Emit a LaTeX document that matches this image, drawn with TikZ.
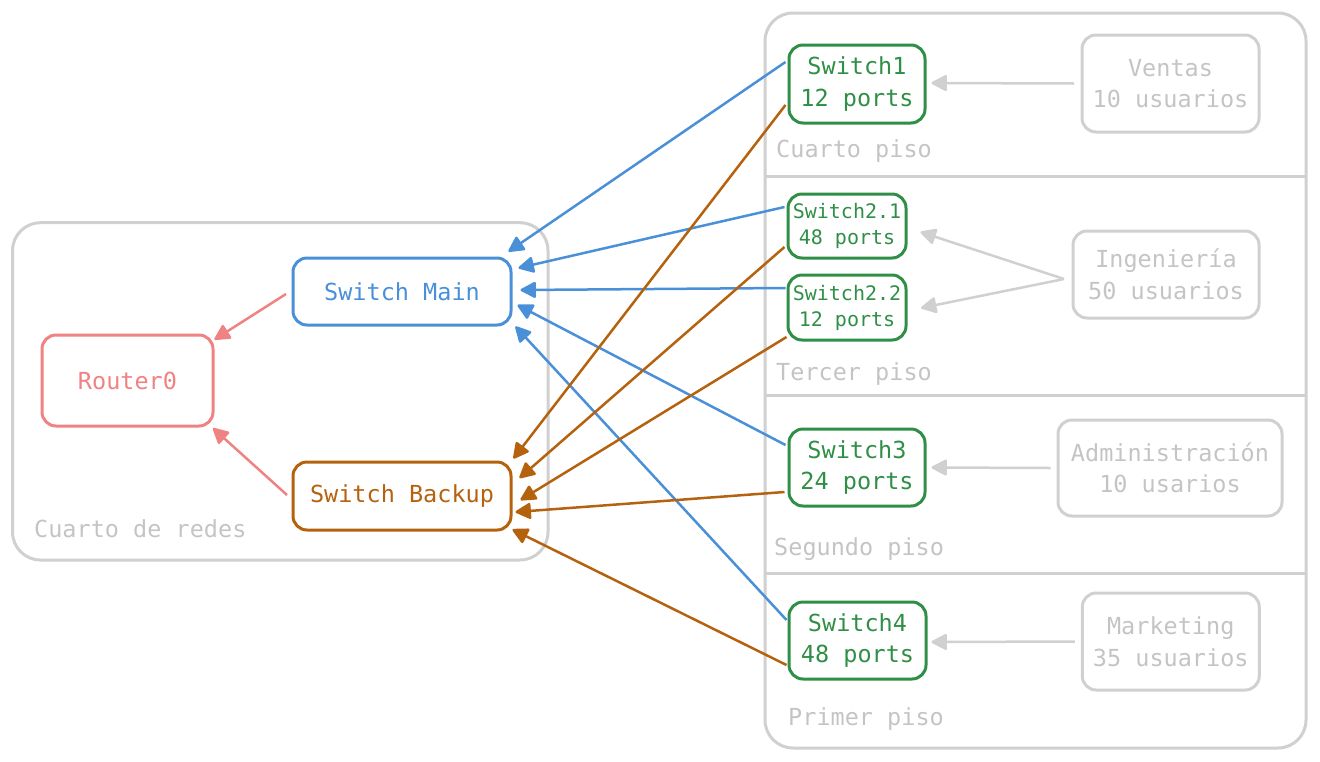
\documentclass[tikz,border=0pt]{standalone}
\usepackage{fontspec}
\setmonofont{DejaVu Sans Mono}
\usetikzlibrary{arrows.meta,calc}
\definecolor{cblue}{HTML}{4A90D9}
\definecolor{cbrown}{HTML}{B5620E}
\definecolor{cred}{HTML}{EF8282}
\definecolor{cgreen}{HTML}{2F8F46}
\definecolor{cgray}{HTML}{D0D0D0}
\definecolor{cgraytext}{HTML}{C4C4C4}
\begin{document}
\begin{tikzpicture}[x=1pt,y=-1pt,
  box/.style={draw, rounded corners=14pt, line width=3pt, inner sep=0pt, align=center,
    font=\ttfamily\fontsize{23.5}{31.5}\selectfont},
  swbox/.style={box, draw=cgreen, text=cgreen},
  swsmall/.style={swbox, font=\ttfamily\fontsize{20}{26}\selectfont},
  grpbox/.style={box, draw=cgray, text=cgraytext},
  lbl/.style={anchor=mid west, inner sep=0pt, text=cgraytext, font=\ttfamily\fontsize{23.5}{28}\selectfont},
  conn/.style={line width=2.5pt, -{Triangle[length=17pt,width=17pt,round]}},
  frame/.style={draw=cgray, line width=3pt, rounded corners=28pt}
]
\useasboundingbox (0,0) rectangle (1320,761);
% containers
\draw[frame] (12.5,222.7) rectangle (548,560);
\draw[frame] (765,13) rectangle (1306,748);
\draw[cgray, line width=3pt] (765,176) -- (1306,176);
\draw[cgray, line width=3pt] (765,395.5) -- (1306,395.5);
\draw[cgray, line width=3pt] (765,573.5) -- (1306,573.5);
% labels
\node[lbl] (lred) at (34,535) {Cuarto de redes};
\node[lbl] (l4) at (776,155.7) {Cuarto piso};
\node[lbl] (l3) at (776,378) {Tercer piso};
\node[lbl] (l2) at (774,553) {Segundo piso};
\node[lbl] (l1) at (788,723) {Primer piso};
% nodes
\node[box, draw=cred, text=cred, minimum width=171pt, minimum height=91pt] (router) at (127.5,380.5) {Router0};
\node[box, draw=cblue, text=cblue, minimum width=218pt, minimum height=67pt] (main) at (402,291.5) {Switch Main};
\node[box, draw=cbrown, text=cbrown, minimum width=218pt, minimum height=68pt] (backup) at (402,496) {Switch Backup};
\node[swbox, minimum width=136pt, minimum height=78pt] (sw1) at (857,84) {Switch1\\12 ports};
\node[swsmall, minimum width=118pt, minimum height=64pt] (sw21) at (847,226) {Switch2.1\\48 ports};
\node[swsmall, minimum width=118pt, minimum height=65pt] (sw22) at (847,307.5) {Switch2.2\\12 ports};
\node[swbox, minimum width=136pt, minimum height=77pt] (sw3) at (857,467.5) {Switch3\\24 ports};
\node[swbox, minimum width=137pt, minimum height=77pt] (sw4) at (857.5,640.5) {Switch4\\48 ports};
\node[grpbox, minimum width=177pt, minimum height=97pt] (ventas) at (1170.5,83.5) {Ventas\\10 usuarios};
\node[grpbox, minimum width=186pt, minimum height=87pt] (ing) at (1166,274.5) {Ingeniería\\50 usuarios};
\node[grpbox, minimum width=224pt, minimum height=96pt] (adm) at (1170,468) {Administración\\10 usarios};
\node[grpbox, minimum width=177pt, minimum height=97pt] (mkt) at (1170.75,641.5) {Marketing\\35 usuarios};
% gray arrows
\draw[conn, cgray] ($(ventas.west)+(-6.5,0)$) -- ($(sw1.east)+(5,-1)$);
\draw[conn, cgray] ($(ing.west)+(-7.5,4.5)$) -- ($(sw21.east)+(13,6)$);
\draw[conn, cgray] ($(ing.west)+(-7.5,4.5)$) -- ($(sw22.east)+(13.5,0.5)$);
\draw[conn, cgray] ($(adm.west)+(-6,0)$) -- ($(sw3.east)+(5,0)$);
\draw[conn, cgray] ($(mkt.west)+(-6,0)$) -- ($(sw4.east)+(4,1.5)$);
% red arrows
\draw[conn, cred] ($(main.west)+(-5.5,2.5)$) -- ($(router.north east)+(0,6)$);
\draw[conn, cred] ($(backup.west)+(-4.5,-1)$) -- ($(router.south east)+(-1.5,0.7)$);
% blue arrows
\draw[conn, cblue] ($(sw1.west)+(-2,-22)$) -- ($(main.north east)+(-4,-5)$);
\draw[conn, cblue] ($(sw21.west)+(-2,-19)$) -- ($(main.east)+(6,-23.5)$);
\draw[conn, cblue] ($(sw22.west)+(-1,-19.5)$) -- ($(main.east)+(8,-1.5)$);
\draw[conn, cblue] ($(sw3.west)+(-2,-22.5)$) -- ($(main.east)+(5,13.5)$);
\draw[conn, cblue] ($(sw4.west)+(-1,-20.5)$) -- ($(main.south east)+(3,0)$);
% brown arrows
\draw[conn, cbrown] ($(sw1.west)+(-2,21)$) -- ($(backup.north east)+(1,-2)$);
\draw[conn, cbrown] ($(sw21.west)+(-2,21)$) -- ($(backup.east)+(7,-18)$);
\draw[conn, cbrown] ($(sw22.west)+(0,29.5)$) -- ($(backup.east)+(8,4)$);
\draw[conn, cbrown] ($(sw3.west)+(-3,24.5)$) -- ($(backup.east)+(3,16)$);
\draw[conn, cbrown] ($(sw4.west)+(-1,24.5)$) -- ($(backup.south east)+(0,-2)$);
\end{tikzpicture}
\end{document}
